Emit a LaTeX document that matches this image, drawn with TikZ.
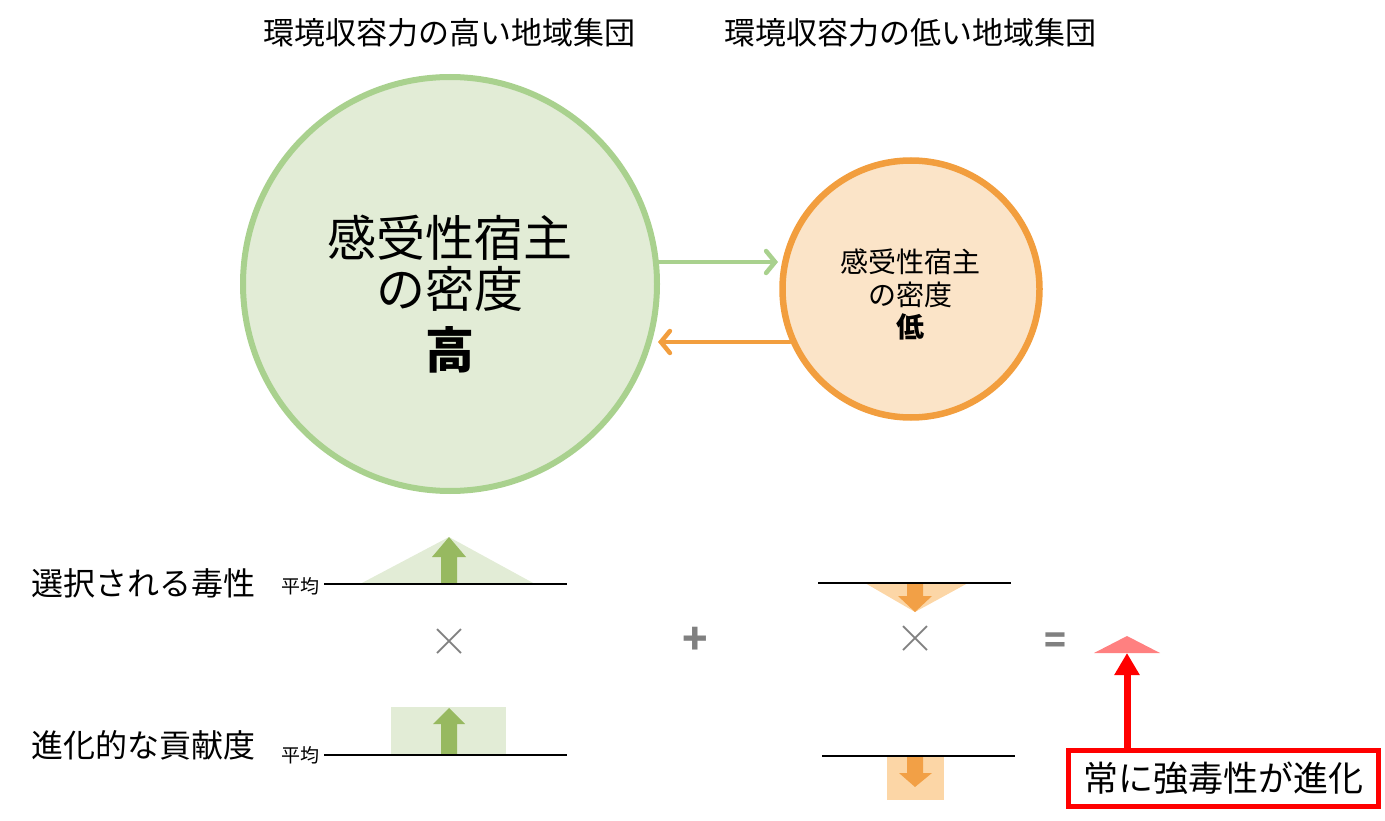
\documentclass[tikz,border=0pt]{standalone}
\usepackage{fontspec}
\newfontfamily\cjk{Noto Sans CJK JP}
\newfontfamily\cjkl{Noto Sans CJK JP Light}
\usetikzlibrary{arrows.meta}
\definecolor{gstroke}{RGB}{169,209,142}
\definecolor{gfill}{RGB}{226,236,214}
\definecolor{garrow}{RGB}{151,185,96}
\definecolor{ostroke}{RGB}{242,158,62}
\definecolor{ofill}{RGB}{251,228,200}
\definecolor{otri}{RGB}{252,214,166}
\definecolor{oarrow}{RGB}{242,160,70}
\definecolor{pinkred}{RGB}{255,128,128}
\definecolor{opgray}{RGB}{128,128,128}
\definecolor{boxred}{RGB}{255,0,0}
\tikzset{
  txt/.style={font=\cjk\fontsize{#1}{#1}\selectfont, inner sep=0pt, text=black},
  op/.style={font=\cjk\fontsize{#1}{#1}\selectfont, text=opgray, inner sep=0pt},
  baseline/.style={line width=1.6pt, black},
}
\begin{document}
\begin{tikzpicture}[x=1pt,y=-1pt]
\useasboundingbox (0,0) rectangle (1385,821);
% titles
\node[txt=31] (title1) at (449,33) {環境収容力の高い地域集団};
\node[txt=31] (title2) at (910,33) {環境収容力の低い地域集団};
% circles
\node[circle, draw=gstroke, fill=gfill, line width=6pt, minimum size=414pt, inner sep=0pt] (big) at (450,284) {};
\node[circle, draw=ostroke, fill=ofill, line width=6.5pt, minimum size=257pt, inner sep=0pt] (small) at (911,289) {};
\node[txt=49] (bigtxt) at (450,238) {感受性宿主};
\node[txt=49] (bigtxt2) at (450,289) {の密度};
\node[txt=49, font=\cjk\bfseries\fontsize{49}{49}\selectfont] (bigtxt3) at (450,350) {高};
\node[txt=28] (smtxt) at (910,262) {感受性宿主};
\node[txt=28] (smtxt2) at (910,295) {の密度};
\node[txt=28, font=\cjk\bfseries\fontsize{28}{28}\selectfont] (smtxt3) at (910,327) {低};
% arrows between circles
\coordinate (ga) at (657,262);
\coordinate (gb) at (778,262);
\coordinate (oa) at (790,342);
\coordinate (ob) at (658,342);
\draw[gstroke, line width=4.5pt, line cap=round, -{Straight Barb[length=9pt,width=22pt,line cap=round]}] (ga) -- (gb);
\draw[ostroke, line width=4.5pt, line cap=round, -{Straight Barb[length=9pt,width=22pt,line cap=round]}] (oa) -- (ob);
% row labels
\node[txt=32, anchor=west] (lab1) at (31,583) {選択される毒性};
\node[txt=32, anchor=west] (lab2) at (31,745) {進化的な貢献度};
\node[txt=19, anchor=east] (avg1) at (320,586) {平均};
\node[txt=19, anchor=east] (avg2) at (320,755) {平均};
% top-left: green triangle and arrow
\fill[gfill] (360,584) -- (449,537) -- (535,584) -- cycle;
\fill[garrow] (441,584) -- (441,557) -- (432,557) -- (449,537) -- (466,557) -- (457,557) -- (457,584) -- cycle;
\draw[baseline] (324,584) -- (567,584);
% top-right: orange triangle and arrow
\fill[otri] (865,583) -- (968,583) -- (915,612) -- cycle;
\fill[oarrow] (907,583) -- (907,596) -- (898,596) -- (915,612) -- (932,596) -- (923,596) -- (923,583) -- cycle;
\draw[baseline] (818,583) -- (1011,583);
% bottom-left: green rect and arrow
\fill[gfill] (391,707) rectangle (506,755);
\fill[garrow] (441,755) -- (441,724) -- (433,724) -- (449,708) -- (465,724) -- (457,724) -- (457,755) -- cycle;
\draw[baseline] (324,755) -- (567,755);
% bottom-right: orange rect and arrow
\fill[otri] (887,756) rectangle (944,800);
\fill[oarrow] (907,756) -- (907,773) -- (899,773) -- (915,787) -- (932,773) -- (923,773) -- (923,756) -- cycle;
\draw[baseline] (822,756) -- (1015,756);
% operators
\node[op=40, font=\cjkl\fontsize{40}{40}\selectfont] (times1) at (449,643) {×};
\node[op=40, font=\cjkl\fontsize{40}{40}\selectfont] (times2) at (915,640) {×};
\node[op=40, font=\cjk\bfseries\fontsize{42}{42}\selectfont] (plus) at (695,641) {+};
\node[op=40, font=\cjk\bfseries\fontsize{36}{36}\selectfont] (eq) at (1055,643) {=};
% result triangle
\coordinate (res) at (1127,653);
\fill[pinkred] (1094,653) -- (1127,636) -- (1160,653) -- cycle;
% result box
\node[draw=boxred, line width=5pt, minimum width=310pt, minimum height=56pt, txt=35, inner sep=0pt] (box) at (1223,778) {常に強毒性が進化};
\draw[boxred, line width=7pt, -{Triangle[length=22pt,width=24pt]}] (box.north -| res) -- (res);
\end{tikzpicture}
\end{document}
